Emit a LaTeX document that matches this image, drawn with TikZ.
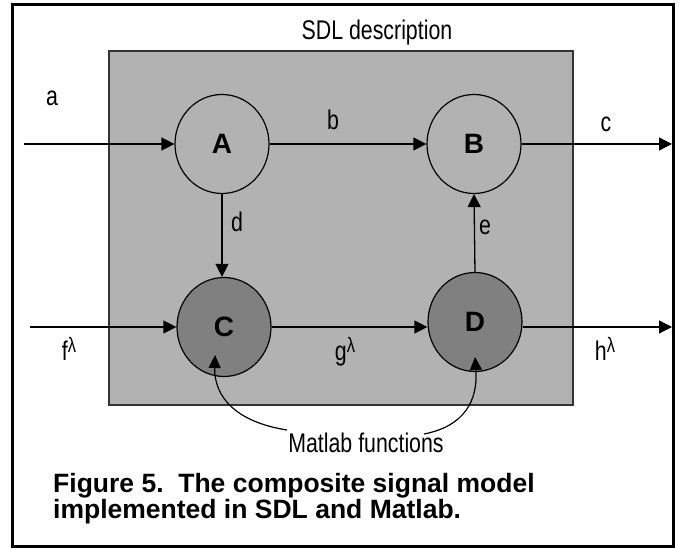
\documentclass[tikz,border=0pt]{standalone}
\usepackage{fontspec}
\setmainfont{Liberation Sans}
\newfontfamily\narrowfont[FakeStretch=0.79]{Liberation Sans}
\usetikzlibrary{arrows.meta,shapes.geometric}
\definecolor{boxgray}{gray}{0.70}
\definecolor{darkfill}{gray}{0.50}
\definecolor{boxline}{gray}{0.20}
\newcommand{\lamsup}{\raisebox{8pt}{\fontsize{21}{21}\selectfont λ}}
\tikzset{
  lbl/.style={font=\narrowfont\fontsize{27}{30}\selectfont, inner sep=0pt, anchor=base},
  proc/.style={ellipse, draw=black, line width=1.2pt, minimum width=94pt, minimum height=99pt, inner sep=0pt, font=\fontsize{28}{30}\selectfont\bfseries},
  lightproc/.style={proc, fill=boxgray},
  darkproc/.style={proc, fill=darkfill},
  sig/.style={line width=1.3pt, -{Triangle[length=13pt,width=13pt]}},
  curv/.style={line width=1.2pt, -{Triangle[length=13pt,width=12pt]}},
}
\begin{document}
\begin{tikzpicture}[x=1pt,y=1pt]
\useasboundingbox (0,0) rectangle (683,-548);
\draw[line width=3pt] (12,-5) rectangle (673,-546);
\draw[fill=boxgray, draw=boxline, line width=2pt] (109,-51) rectangle (573,-405);
\node[lbl] (title) at (377,-40) {SDL description};

\node[lightproc] (A) at (222,-144) {A};
\node[lightproc] (B) at (474,-144) {B};
\node[darkproc] (C) at (224,-327) {C};
\node[darkproc] (D) at (475,-322) {D};

\coordinate (ain) at (24,-144);
\coordinate (cout) at (672,-144);
\coordinate (fin) at (30,-327);
\coordinate (hout) at (672,-327);

\draw[sig] (ain) -- (A.west);
\draw[sig] (A.east) -- (B.west);
\draw[sig] (B.east) -- (cout);
\draw[sig] (A.south) -- (A.south |- C.north);
\draw[sig] (D.north) -- (B.south);
\draw[sig] (fin) -- (C.west);
\draw[sig] (C.east) -- (C.east -| D.west);
\draw[sig] (C.east -| D.east) -- (hout);

\node[lbl] (la) at (52,-106) {a};
\node[lbl] (lb) at (333,-130) {b};
\node[lbl] (lc) at (606,-132) {c};
\node[lbl] (ld) at (237,-232) {d};
\node[lbl] (le) at (485,-235) {e};
\node[lbl] (lf) at (69,-360) {f\lamsup};
\node[lbl] (lg) at (345,-360) {g\lamsup};
\node[lbl] (lh) at (605,-360) {h\lamsup};

\node[lbl] (mf) at (366,-452) {Matlab functions};
\coordinate (ct) at (215,-355);
\coordinate (dt) at (475,-357);
\draw[curv] (287,-430) .. controls (236,-422) and (214,-397) .. (ct);
\draw[curv] (424,-434) .. controls (465,-426) and (478,-400) .. (dt);

\node[anchor=base west, inner sep=0pt, font=\fontsize{26.5}{26}\selectfont\bfseries, align=left] (cap) at (53,-518) {Figure 5.\ \ The composite signal model\\implemented in SDL and Matlab.};
\end{tikzpicture}
\end{document}
